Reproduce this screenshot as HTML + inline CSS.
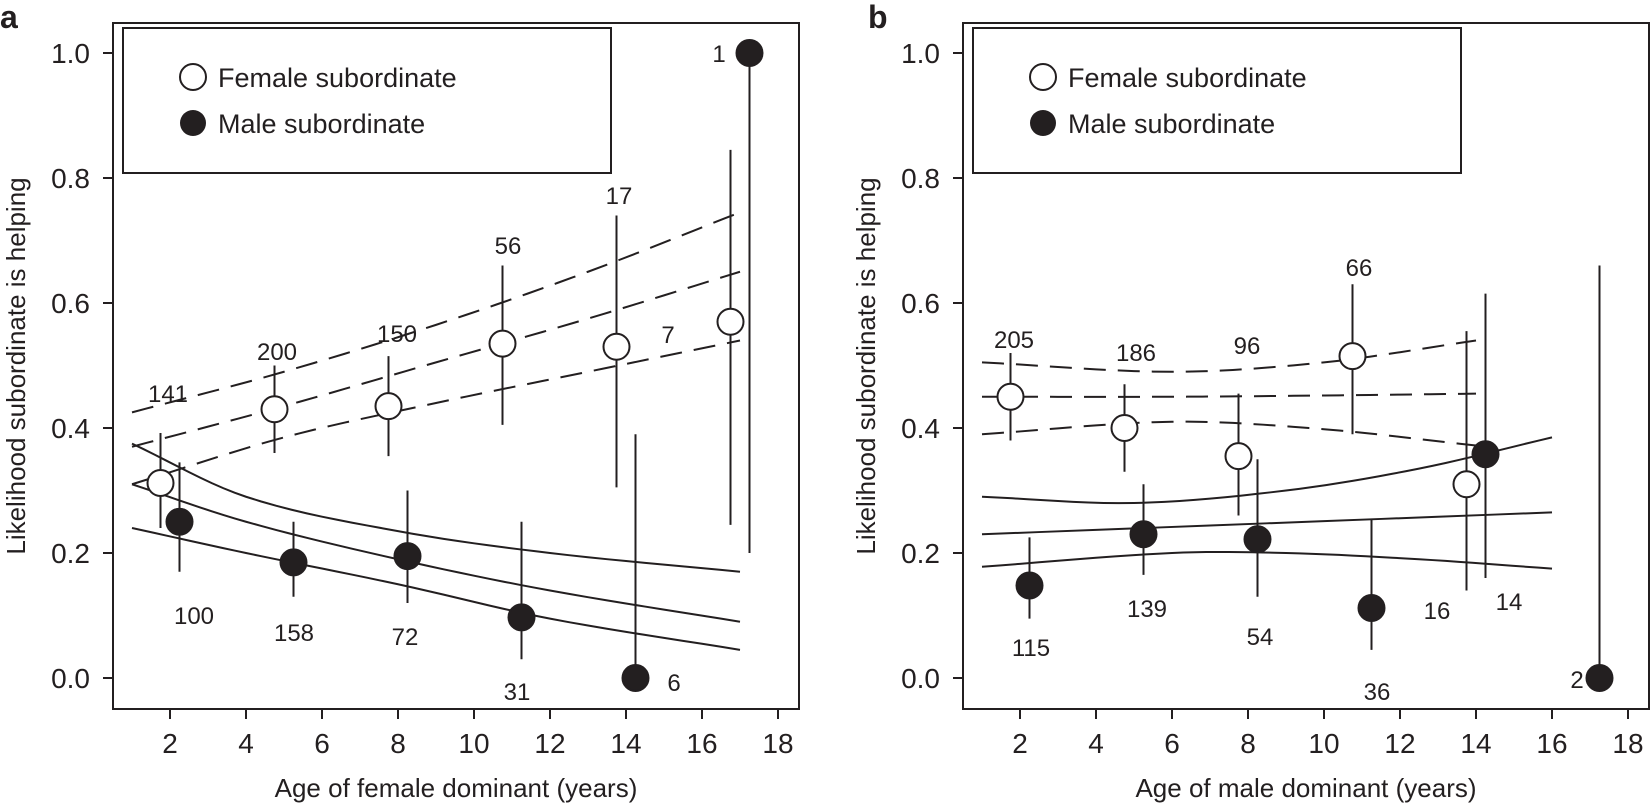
<!DOCTYPE html>
<html><head><meta charset="utf-8"><style>
html,body{margin:0;padding:0;background:#fff}
svg{display:block}
text{font-family:"Liberation Sans",Arial,sans-serif;fill:#231f20}
</style></head><body>
<svg id="s" width="1650" height="805" xmlns="http://www.w3.org/2000/svg"></svg>
<script>
const S=document.getElementById('s');let h='';
const C='#231f20';
function panel(ox,letter,xt,d){
 const L=ox+113,R=ox+799,T=23,B=709;
 const X=v=>ox+170+(v-2)*38, Y=p=>678-625*p;
 h+=`<rect x="${L}" y="${T}" width="${R-L}" height="${B-T}" fill="none" stroke="${C}" stroke-width="2"/>`;
 h+=`<rect x="${L+10}" y="28" width="488" height="145" fill="none" stroke="${C}" stroke-width="2"/>`;
 h+=`<circle cx="${L+80}" cy="77" r="13" fill="#fff" stroke="${C}" stroke-width="2"/><text x="${L+105}" y="87" font-size="27">Female subordinate</text>`;
 h+=`<circle cx="${L+80}" cy="123" r="13" fill="${C}"/><text x="${L+105}" y="133" font-size="27">Male subordinate</text>`;
 for(let i=0;i<=5;i++){const p=i*0.2,y=Y(p);h+=`<line x1="${L-10}" y1="${y}" x2="${L}" y2="${y}" stroke="${C}" stroke-width="2"/><text x="${L-23}" y="${y+10}" font-size="28" text-anchor="end">${p.toFixed(1)}</text>`;}
 for(let v=2;v<=18;v+=2){const x=X(v);h+=`<line x1="${x}" y1="${B}" x2="${x}" y2="${B+10}" stroke="${C}" stroke-width="2"/><text x="${x}" y="753" font-size="28" text-anchor="middle">${v}</text>`;}
 h+=`<text x="${(L+R)/2}" y="797" font-size="26" text-anchor="middle">${xt}</text>`;
 h+=`<text transform="translate(${L-88},${(T+B)/2}) rotate(-90)" font-size="26" text-anchor="middle">Likelihood subordinate is helping</text>`;
 h+=`<text x="${ox+(letter=='a'?0:868-850)}" y="28" font-size="32" font-weight="bold">${letter}</text>`;
 d.curves.forEach(c=>{const pts=c.p.map(q=>X(q[0])+','+Y(q[1])).join(' ');
  h+=`<polyline points="${pts}" fill="none" stroke="${C}" stroke-width="2" ${c.dash?'stroke-dasharray="22,12"':''}/>`;});
 d.pts.forEach(q=>{const[x,p,lo,hi,f]=q;h+=`<line x1="${X(x)}" y1="${Y(lo)}" x2="${X(x)}" y2="${Y(hi)}" stroke="${C}" stroke-width="2"/>`;
  h+=`<circle cx="${X(x)}" cy="${Y(p)}" r="13" fill="${f?C:'#fff'}" stroke="${C}" stroke-width="2"/>`;});
 d.labels.forEach(l=>{h+=`<text x="${ox+l[1]}" y="${l[2]+9}" font-size="24" text-anchor="middle">${l[0]}</text>`;});
}
function smooth(a){
 const out=[];for(let i=0;i<a.length-1;i++){const[x0,y0]=a[i],[x1,y1]=a[i+1];
  const m0=i>0?(a[i+1][1]-a[i-1][1])/(a[i+1][0]-a[i-1][0]):(y1-y0)/(x1-x0);
  const m1=i<a.length-2?(a[i+2][1]-a[i][1])/(a[i+2][0]-a[i][0]):(y1-y0)/(x1-x0);
  const dx=x1-x0;for(let k=0;k<10;k++){const t=k/10,t2=t*t,t3=t2*t;
   out.push([x0+t*dx,(2*t3-3*t2+1)*y0+(t3-2*t2+t)*dx*m0+(-2*t3+3*t2)*y1+(t3-t2)*dx*m1]);}}
 out.push(a[a.length-1]);return out;}
panel(0,'a','Age of female dominant (years)',{
 curves:[
  {dash:1,p:smooth([[1,0.425],[5,0.49],[9,0.565],[13,0.65],[17,0.745]])},
  {dash:1,p:smooth([[1,0.37],[5,0.435],[9,0.505],[13,0.575],[17,0.65]])},
  {dash:1,p:smooth([[1,0.31],[5,0.385],[9,0.44],[13,0.49],[17,0.54]])},
  {p:smooth([[1,0.375],[4,0.29],[8,0.235],[12,0.2],[17,0.17]])},
  {p:smooth([[1,0.31],[4,0.25],[8,0.19],[12,0.14],[17,0.09]])},
  {p:smooth([[1,0.24],[4,0.2],[8,0.15],[12,0.095],[17,0.045]])}],
 pts:[[1.75,0.312,0.24,0.392,0],[4.75,0.43,0.36,0.5,0],[7.75,0.435,0.355,0.515,0],[10.75,0.535,0.405,0.66,0],[13.75,0.53,0.305,0.74,0],[16.75,0.57,0.245,0.845,0],
  [2.25,0.25,0.17,0.345,1],[5.25,0.185,0.13,0.25,1],[8.25,0.195,0.12,0.3,1],[11.25,0.097,0.03,0.25,1],[14.25,0,0,0.39,1],[17.25,1,0.2,1,1]],
 labels:[['141',168,393],['200',277,351],['150',397,333],['56',508,245],['17',619,195],['7',668,334],['1',719,53],
  ['100',194,615],['158',294,632],['72',405,636],['31',517,691],['6',674,682]]});
panel(850,'b','Age of male dominant (years)',{
 curves:[
  {dash:1,p:smooth([[1,0.505],[6,0.49],[10,0.505],[14,0.54]])},
  {dash:1,p:smooth([[1,0.45],[6,0.45],[10,0.452],[14,0.455]])},
  {dash:1,p:smooth([[1,0.39],[6,0.41],[10,0.398],[14,0.372]])},
  {p:smooth([[1,0.29],[5,0.28],[9,0.3],[12.5,0.335],[16,0.385]])},
  {p:smooth([[1,0.23],[16,0.265]])},
  {p:smooth([[1,0.178],[6,0.2],[9,0.2],[12.5,0.19],[16,0.175]])}],
 pts:[[1.75,0.45,0.38,0.52,0],[4.75,0.4,0.33,0.47,0],[7.75,0.355,0.26,0.455,0],[10.75,0.515,0.39,0.63,0],[13.75,0.31,0.14,0.555,0],
  [2.25,0.148,0.095,0.225,1],[5.25,0.23,0.165,0.31,1],[8.25,0.222,0.13,0.35,1],[11.25,0.112,0.045,0.255,1],[14.25,0.358,0.16,0.615,1],[17.25,0,0,0.66,1]],
 labels:[['205',164,339],['186',286,352],['96',397,345],['66',509,267],['16',587,610],['14',659,601],
  ['115',181,647],['139',297,608],['54',410,636],['36',527,691],['2',727,679]]});
S.innerHTML=h;
</script>
</body></html>
